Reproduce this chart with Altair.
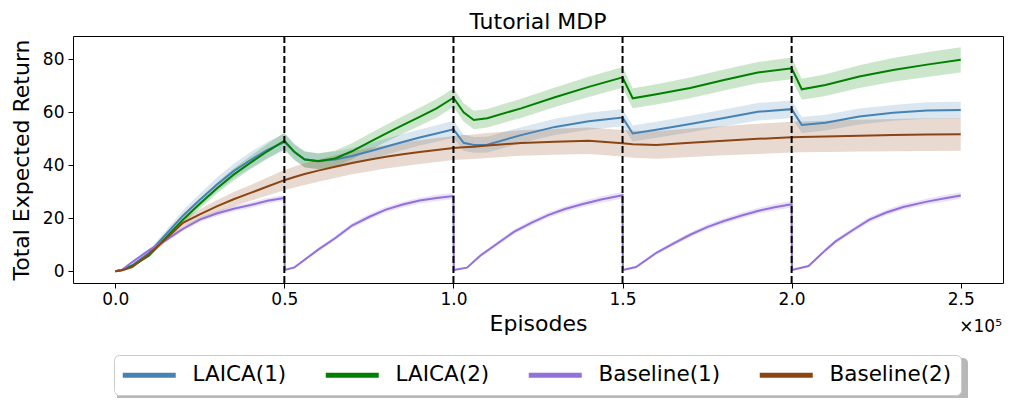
import altair as alt
import pandas as pd

# ---------------- data (x in units of 1e5 episodes) ----------------
X = [0, 0.02, 0.05, 0.1, 0.15, 0.2, 0.25, 0.3, 0.35, 0.4, 0.45, 0.5,
     0.53, 0.56, 0.6, 0.65, 0.7, 0.75, 0.8, 0.85, 0.9, 0.95, 1.0,
     1.03, 1.06, 1.1, 1.2, 1.3, 1.4, 1.5,
     1.53, 1.6, 1.7, 1.8, 1.9, 2.0,
     2.03, 2.1, 2.2, 2.3, 2.4, 2.5]

LAICA1 = [0, 0.5, 2.3, 7, 14, 21, 27, 32.7, 37.8, 42, 45.8, 48.8,
          45, 42.3, 41.6, 42.2, 43.5, 45.2, 47, 48.8, 50.5, 52, 53.6,
          48.5, 47.7, 47.8, 51.4, 54.5, 56.6, 58,
          52, 53.4, 55.6, 57.9, 60.2, 61.2,
          55.2, 56.1, 58.4, 59.8, 60.7, 60.9]
LAICA1_SD = [0, 0.2, 0.5, 1, 1.5, 2, 2.3, 2.6, 2.8, 3, 3, 3.2,
             3, 3, 3, 3, 3, 3, 3, 3, 3, 3.1, 3.2,
             3, 3, 3, 3, 3.1, 3.2, 3.3,
             3, 3, 3.1, 3.2, 3.3, 3.3,
             3, 3, 3, 3, 3.1, 3.1]

LAICA2 = [0, 0.5, 2, 6, 12.7, 19.5, 25.5, 31.3, 36.5, 41, 45.3, 49.3,
          45, 42.2, 41.5, 42.6, 45.3, 48.7, 52, 55.2, 58.3, 61.5, 65.5,
          60, 57.1, 57.8, 61.5, 65.7, 69.6, 73.2,
          65.3, 66.8, 69.2, 72.2, 75, 76.6,
          68.7, 70.3, 73.5, 76, 78, 79.8]
LAICA2_SD = [0, 0.2, 0.4, 0.8, 1.2, 1.5, 1.8, 2, 2.3, 2.5, 2.8, 3,
             3, 3, 3, 3, 3, 3.1, 3.2, 3.3, 3.4, 3.5, 3.5,
             3.5, 3.5, 3.5, 3.6, 3.7, 3.8, 3.9,
             3.8, 3.8, 3.9, 4, 4, 4.1,
             4, 4.1, 4.3, 4.5, 4.7, 4.8]

BASE2 = [0, 0.4, 1.6, 6.5, 12.3, 18.3, 21.5, 24.5, 27.2, 29.6, 32, 34.4,
         35.6, 36.7, 38, 39.5, 40.9, 42.1, 43.2, 44.2, 45, 45.8, 46.5,
         46.8, 47, 47.5, 48.4, 48.9, 49.3, 48.3,
         48, 47.7, 48.5, 49.3, 50, 50.6,
         50.7, 50.9, 51.2, 51.4, 51.6, 51.7]
BASE2_SD = [0, 0.1, 0.3, 0.7, 1.1, 1.5, 1.9, 2.3, 2.7, 3, 3.4, 3.8,
            4, 4.1, 4.2, 4.3, 4.3, 4.4, 4.4, 4.5, 4.5, 4.5, 4.5,
            4.6, 4.6, 4.7, 4.8, 4.9, 5, 5,
            5.1, 5.2, 5.4, 5.5, 5.7, 5.8,
            5.8, 5.9, 6, 6.1, 6.2, 6.2]

# Baseline(1) restarts after every reset (first point of each restart just after it)
BASE1_X = [0, 0.02, 0.05, 0.1, 0.15, 0.2, 0.25, 0.3, 0.35, 0.4, 0.45, 0.5,
           0.501, 0.53, 0.6, 0.65, 0.7, 0.75, 0.8, 0.85, 0.9, 0.95, 1.0,
           1.001, 1.04, 1.08, 1.13, 1.18, 1.23, 1.28, 1.33, 1.38, 1.44, 1.5,
           1.501, 1.54, 1.6, 1.65, 1.7, 1.75, 1.8, 1.85, 1.9, 1.95, 2.0,
           2.001, 2.05, 2.1, 2.13, 2.18, 2.23, 2.28, 2.33, 2.4, 2.45, 2.5]
BASE1 = [0, 0.6, 3.5, 8, 11.8, 16, 19.5, 21.8, 23.6, 25, 26.6, 27.7,
         0.5, 1.5, 8.2, 12.5, 17.3, 20.5, 23.3, 25.2, 26.7, 27.7, 28.4,
         0.5, 1.4, 6, 10.5, 15, 18.3, 21.2, 23.5, 25.3, 27.2, 28.7,
         0.5, 1.6, 7, 10.5, 13.8, 16.7, 19, 21, 22.8, 24.2, 25.3,
         0.5, 2, 8, 11.3, 15.5, 19.5, 22.2, 24.3, 26.3, 27.5, 28.6]
BASE1_SD = [0, 0.1, 0.3, 0.5, 0.7, 0.8, 0.9, 1, 1, 1.1, 1.1, 1.1,
            0.2, 0.3, 0.6, 0.8, 0.9, 1, 1, 1.1, 1.1, 1.2, 1.2,
            0.2, 0.3, 0.6, 0.8, 0.9, 1, 1, 1.1, 1.1, 1.2, 1.2,
            0.2, 0.3, 0.6, 0.8, 0.9, 1, 1, 1.1, 1.1, 1.2, 1.2,
            0.2, 0.3, 0.6, 0.8, 0.9, 1, 1, 1.1, 1.1, 1.2, 1.2]

RESETS = [0.5, 1.0, 1.5, 2.0]
SERIES = ["LAICA(1)", "LAICA(2)", "Baseline(1)", "Baseline(2)"]
COLORS = ["#4682b4", "#008000", "#9370db", "#8b4513"]
X_TICKS = [0, 0.5, 1.0, 1.5, 2.0, 2.5]
Y_TICKS = [0, 20, 40, 60, 80]

# ---------------- table ----------------
rows = []
def add(k, name, xs, ys, sds):
    for x, y, s in zip(xs, ys, sds):
        rows.append({"series": name, "k": k, "ep": x, "mean": y,
                     "lo": y - s, "hi": y + s})

add(0, SERIES[0], X, LAICA1, LAICA1_SD)
add(1, SERIES[1], X, LAICA2, LAICA2_SD)
add(2, SERIES[2], BASE1_X, BASE1, BASE1_SD)
add(3, SERIES[3], X, BASE2, BASE2_SD)
df = pd.DataFrame(rows)

FONT = "DejaVu Sans"
xscale = alt.Scale(domain=[-0.125, 2.625], nice=False, zero=False)
yscale = alt.Scale(domain=[-4.4, 88.8], nice=False, zero=False)
cscale = alt.Scale(domain=SERIES, range=COLORS)

xaxis = alt.Axis(values=X_TICKS, format=".1f", grid=False, domain=False,
                 labelFontSize=17, labelFont=FONT, labelColor="black",
                 tickSize=5, tickColor="black", labelPadding=3,
                 titleFontSize=22, titleFont=FONT, titleFontWeight="normal",
                 titleColor="black", titlePadding=6)
yaxis = alt.Axis(values=Y_TICKS, grid=False, domain=False,
                 labelFontSize=17, labelFont=FONT, labelColor="black",
                 tickSize=5, tickColor="black", labelPadding=4,
                 titleFontSize=22, titleFont=FONT, titleFontWeight="normal",
                 titleColor="black", titlePadding=9)

# long horizontal line symbol (custom path, scaled by sqrt(size)/2)
legend = alt.Legend(
    orient="none", legendX=41, legendY=319, direction="horizontal",
    columns=4, title=None, symbolType="M-2.2,0H8.4", symbolSize=100,
    symbolStrokeWidth=5, symbolOpacity=1, labelFontSize=21.5, labelFont=FONT,
    labelColor="black", labelOffset=48, columnPadding=28, padding=9,
    strokeColor="#cccccc", fillColor="white", cornerRadius=5,
)
color = alt.Color("series:N", scale=cscale, legend=legend)

base = alt.Chart(df)

bands = base.mark_area(opacity=0.2, orient="vertical").encode(
    x=alt.X("ep:Q", scale=xscale, axis=xaxis, title="Episodes"),
    y=alt.Y("lo:Q", scale=yscale, axis=yaxis, title="Total Expected Return"),
    y2=alt.Y2("hi:Q"),
    color=color,
)

lines = base.mark_line(strokeWidth=2).encode(
    x=alt.X("ep:Q", scale=xscale),
    y=alt.Y("mean:Q", scale=yscale),
    color=color,
)

vlines = alt.Chart(pd.DataFrame({"ep": RESETS})).mark_rule(
    color="black", strokeWidth=2, strokeDash=[7, 3]
).encode(x=alt.X("ep:Q", scale=xscale))

sci = alt.Chart(pd.DataFrame({"t": ["×10⁵"]})).mark_text(
    align="right", baseline="alphabetic", fontSize=17, font=FONT, color="black"
).encode(text="t:N", x=alt.value(929), y=alt.value(296))

shadow = alt.Chart(pd.DataFrame({"s": [1]})).mark_rect(
    color="#888888", opacity=0.6, cornerRadius=5
).encode(x=alt.value(44), x2=alt.value(895), y=alt.value(322), y2=alt.value(366))

chart = alt.layer(shadow, bands, lines, vlines, sci).properties(
    width=930, height=247,
    title=alt.TitleParams("Tutorial MDP", fontSize=22, font=FONT,
                          fontWeight="normal", color="black", offset=1,
                          frame="group", anchor="middle"),
    autosize=alt.AutoSizeParams(type="none"),
    padding={"left": 65, "top": 28, "right": 5, "bottom": 115},
).configure_view(stroke="black", strokeWidth=1)

chart.save("out.html", embed_options={"renderer": "svg", "actions": False})
